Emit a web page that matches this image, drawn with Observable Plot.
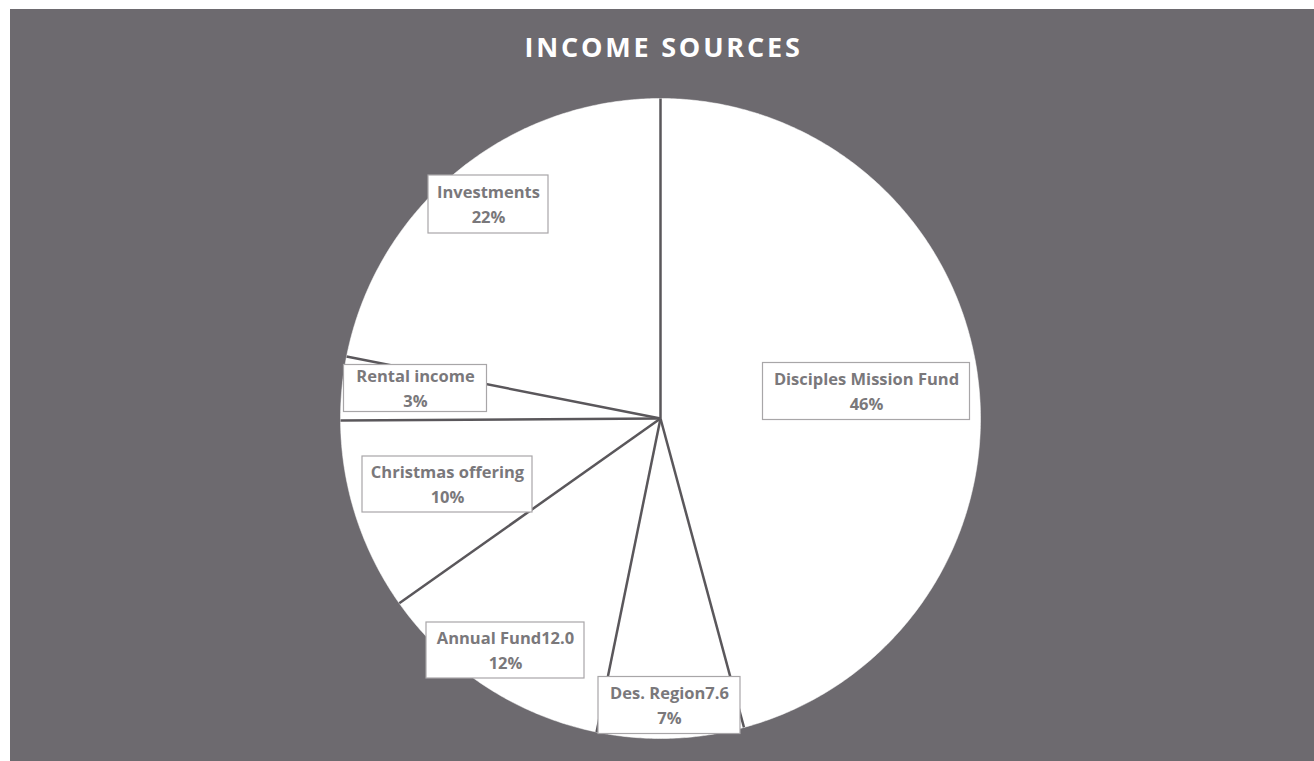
<!DOCTYPE html>
<html>
<head>
<meta charset="utf-8">
<script src="https://cdn.jsdelivr.net/npm/d3@7"></script>
<script src="https://cdn.jsdelivr.net/npm/@observablehq/plot@0.6"></script>
<style>
  html, body { margin: 0; padding: 0; background: #ffffff; }
  #panel { position: absolute; left: 10px; top: 9px; width: 1304px; height: 752px; background: #6d6a6f; overflow: hidden; }
  #title { height: 70px; text-align: center; font-family: "Open Sans", sans-serif; font-weight: 700; font-size: 27px; letter-spacing: 2.8px; color: #ffffff; line-height: 28px; padding-top: 24px; padding-left: 3px; box-sizing: border-box; }
  #chart svg { display: block; }
</style>
</head>
<body>
<div id="panel">
  <div id="title">INCOME SOURCES</div>
  <div id="chart"></div>
</div>
<script>
// ---- data ----
const categories = ["Disciples Mission Fund", "Des. Region7.6", "Annual Fund12.0", "Christmas offering", "Rental income", "Investments"];
const values = [45.8, 7.4, 12.0, 9.7, 3.2, 21.9];

// ---- layout (label box centres / sizes relative to pie centre) ----
const labelLayout = [
  {x: 206, y: -27, w: 207, h: 57},
  {x: 9, y: 287, w: 142, h: 57},
  {x: -155, y: 232, w: 158, h: 56},
  {x: -213, y: 66, w: 170, h: 56},
  {x: -245, y: -30, w: 143, h: 47},
  {x: -172, y: -214, w: 120, h: 58}
];

const R = 320;
const W = 1304, H = 682;
const total = d3.sum(values);

// slice polygons and radial edges from values
const slicePts = [];
const edges = [];
let acc = 0;
categories.forEach((c, i) => {
  const a0 = acc / total * 2 * Math.PI;
  acc += values[i];
  const a1 = acc / total * 2 * Math.PI;
  slicePts.push({cat: c, x: 0, y: 0});
  const n = Math.max(2, Math.ceil((a1 - a0) / (Math.PI / 360)));
  for (let k = 0; k <= n; k++) {
    const a = a0 + (a1 - a0) * k / n;
    slicePts.push({cat: c, x: R * Math.sin(a), y: -R * Math.cos(a)});
  }
  slicePts.push({cat: c, x: 0, y: 0});
  edges.push({x1: 0, y1: 0, x2: R * Math.sin(a0), y2: -R * Math.cos(a0)});
});

const labels = categories.map((c, i) => ({
  name: c,
  pct: Math.round(values[i] / total * 100) + "%",
  ...labelLayout[i]
}));

const font = "'Open Sans', sans-serif";
const chart = Plot.plot({
  width: W,
  height: H,
  margin: 0,
  x: {domain: [-650, 654], range: [0, W], axis: null},
  y: {domain: [-339, 343], range: [0, H], axis: null},
  style: {background: "transparent"},
  marks: [
    Plot.line(slicePts, {x: "x", y: "y", z: "cat", fill: "#ffffff", stroke: "#ffffff", strokeWidth: 0.5, curve: "linear"}),
    Plot.link(edges, {x1: "x1", y1: "y1", x2: "x2", y2: "y2", stroke: "#5a575b", strokeWidth: 2.5}),
    Plot.rect(labels, {x1: d => d.x - d.w / 2, x2: d => d.x + d.w / 2, y1: d => d.y - d.h / 2, y2: d => d.y + d.h / 2, fill: "#ffffff", stroke: "#a8a6a8", strokeWidth: 1.2}),
    Plot.text(labels, {x: "x", y: d => d.y - 12, text: "name", fill: "#7a787b", fontSize: 16.5, fontWeight: 700, fontFamily: font}),
    Plot.text(labels, {x: "x", y: d => d.y + 13, text: "pct", fill: "#7a787b", fontSize: 16.5, fontWeight: 700, fontFamily: font})
  ]
});
document.getElementById("chart").appendChild(chart);
</script>
</body>
</html>
